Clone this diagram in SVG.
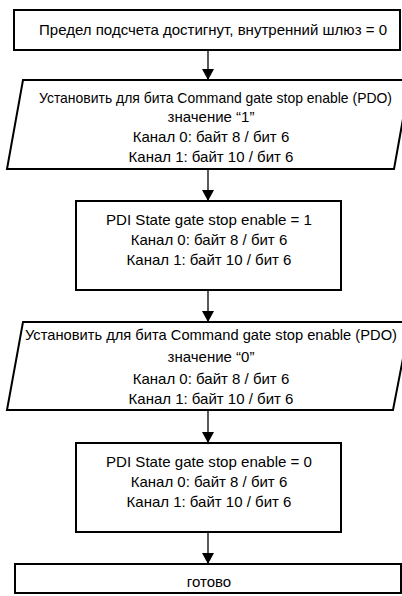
<svg xmlns="http://www.w3.org/2000/svg" width="402" height="596" viewBox="0 0 402 596">
  <style>
    .shape { fill: #ffffff; stroke: #000000; stroke-width: 2; }
    .link { stroke: #000000; stroke-width: 1.3; fill: none; }
    text { font-family: "Liberation Sans", Arial, sans-serif; font-size: 15px; fill: #000000; text-anchor: middle; }
  </style>
  <defs>
    <marker id="arrow" viewBox="0 0 11 12" refX="11" refY="6" markerWidth="11" markerHeight="12" markerUnits="userSpaceOnUse" orient="auto">
      <path d="M0,0 L11,6 L0,12 Z" fill="#000000"/>
    </marker>
  </defs>
  <rect width="402" height="596" fill="#ffffff"/>

  <!-- connectors -->
  <g id="connectors">
    <line class="link" x1="208" y1="50" x2="208" y2="80" marker-end="url(#arrow)"/>
    <line class="link" x1="208" y1="169" x2="208" y2="201" marker-end="url(#arrow)"/>
    <line class="link" x1="208" y1="290" x2="208" y2="322" marker-end="url(#arrow)"/>
    <line class="link" x1="208" y1="410" x2="208" y2="443" marker-end="url(#arrow)"/>
    <line class="link" x1="208" y1="532" x2="208" y2="564" marker-end="url(#arrow)"/>
  </g>

  <!-- start: counter limit reached -->
  <g id="start">
    <rect class="shape" x="14" y="10" width="386" height="40"/>
    <text x="213" y="35" textLength="348" lengthAdjust="spacingAndGlyphs">Предел подсчета достигнут, внутренний шлюз = 0</text>
  </g>

  <!-- set command bit to 1 -->
  <g id="set-cmd-1">
    <polygon class="shape" points="23,80 410,80 394,169 7,169"/>
    <text x="215.5" y="103" textLength="353" lengthAdjust="spacingAndGlyphs">Установить для бита Command gate stop enable (PDO)</text>
    <text x="211" y="122">значение “1”</text>
    <text x="211" y="142">Канал 0: байт 8 / бит 6</text>
    <text x="211" y="162">Канал 1: байт 10 / бит 6</text>
  </g>

  <!-- state check: 1 -->
  <g id="state-1">
    <rect class="shape" x="76" y="201" width="265" height="89"/>
    <text x="209" y="225" textLength="206" lengthAdjust="spacingAndGlyphs">PDI State gate stop enable = 1</text>
    <text x="209" y="245">Канал 0: байт 8 / бит 6</text>
    <text x="209" y="265">Канал 1: байт 10 / бит 6</text>
  </g>

  <!-- set command bit to 0 -->
  <g id="set-cmd-0">
    <polygon class="shape" points="23,322 410,322 393,410 7,410"/>
    <text x="211" y="340" textLength="372" lengthAdjust="spacingAndGlyphs">Установить для бита Command gate stop enable (PDO)</text>
    <text x="211" y="362">значение “0”</text>
    <text x="211" y="384">Канал 0: байт 8 / бит 6</text>
    <text x="211" y="404">Канал 1: байт 10 / бит 6</text>
  </g>

  <!-- state check: 0 -->
  <g id="state-0">
    <rect class="shape" x="76" y="443" width="265" height="89"/>
    <text x="209" y="467" textLength="206" lengthAdjust="spacingAndGlyphs">PDI State gate stop enable = 0</text>
    <text x="209" y="487">Канал 0: байт 8 / бит 6</text>
    <text x="209" y="507">Канал 1: байт 10 / бит 6</text>
  </g>

  <!-- done -->
  <g id="done">
    <rect class="shape" x="15" y="564" width="386" height="29"/>
    <text x="209" y="587">готово</text>
  </g>
</svg>
